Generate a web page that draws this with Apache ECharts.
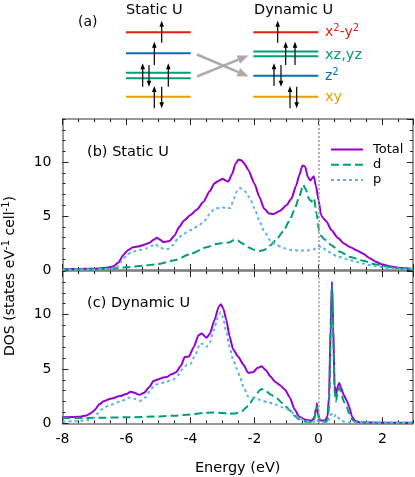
<!DOCTYPE html>
<html><head><meta charset="utf-8">
<script src="https://cdn.jsdelivr.net/npm/echarts@6/dist/echarts.min.js"></script>
<style>html,body{margin:0;padding:0;background:#fff}#c{width:415px;height:477px}</style>
</head><body><div id="c"></div>
<script>
// ---------- Data ----------
const seriesNames = ['Total', 'd', 'p'];
const xTickLabels = [-8, -6, -4, -2, 0, 2];
const yTickLabels = [0, 5, 10];

// Panel (b) Static U
const E_b_total = [-8,-7.5,-7,-6.6,-6.4,-6.25,-6.1,-5.95,-5.8,-5.6,-5.45,-5.3,-5.15,-5.05,-4.95,-4.85,-4.65,-4.5,-4.35,-4.2,-4.0,-3.8,-3.6,-3.4,-3.25,-3.1,-3.0,-2.9,-2.82,-2.7,-2.6,-2.5,-2.4,-2.3,-2.2,-2.0,-1.85,-1.7,-1.55,-1.4,-1.2,-1.0,-0.85,-0.7,-0.6,-0.5,-0.42,-0.33,-0.25,-0.15,-0.08,0.0,0.08,0.15,0.25,0.4,0.6,0.8,1.0,1.2,1.4,1.6,1.8,2.0,2.3,2.6,2.95];
const DOS_b_total = [0.08,0.1,0.12,0.2,0.35,0.7,1.4,1.85,2.1,2.2,2.35,2.5,2.8,3.0,2.8,2.6,2.7,3.2,4.0,4.6,5.1,5.6,6.3,7.3,8.05,8.3,8.45,8.3,8.2,8.9,9.8,10.25,10.15,9.8,9.3,8.0,6.8,5.7,5.25,5.2,5.5,6.0,6.6,7.8,8.8,9.7,9.6,8.6,8.3,8.7,7.8,6.5,5.1,4.8,4.5,3.7,3.0,2.45,2.1,1.8,1.5,1.1,0.75,0.5,0.3,0.18,0.1];

const E_b_d = [-8,-7,-6.5,-6.0,-5.5,-5.0,-4.5,-4.0,-3.5,-3.2,-3.0,-2.8,-2.65,-2.55,-2.4,-2.2,-2.0,-1.85,-1.7,-1.5,-1.3,-1.1,-0.9,-0.75,-0.6,-0.48,-0.4,-0.3,-0.22,-0.14,-0.06,0.02,0.1,0.2,0.4,0.67,1.0,1.4,1.8,2.2,2.6,2.95];
const DOS_b_d = [0.05,0.08,0.12,0.25,0.4,0.55,0.9,1.5,2.1,2.4,2.5,2.55,2.75,2.8,2.5,2.1,1.85,1.75,1.85,2.3,2.9,3.6,4.6,5.6,6.8,7.9,7.5,6.6,6.35,6.65,5.2,3.6,3.1,2.8,2.3,1.7,1.2,0.85,0.5,0.28,0.15,0.08];

const E_b_p = [-8,-7,-6.5,-6.3,-6.15,-6.0,-5.85,-5.6,-5.4,-5.2,-5.1,-5.0,-4.85,-4.7,-4.55,-4.4,-4.25,-4.0,-3.75,-3.55,-3.4,-3.25,-3.0,-2.85,-2.75,-2.65,-2.55,-2.45,-2.3,-2.15,-2.0,-1.85,-1.7,-1.5,-1.3,-1.1,-0.9,-0.6,-0.3,-0.15,0.0,0.1,0.3,0.6,1.0,1.4,1.8,2.2,2.6,2.95];
const DOS_b_p = [0.03,0.05,0.1,0.25,0.8,1.4,1.65,1.85,2.0,2.25,2.4,2.2,1.95,1.95,2.3,2.9,3.3,3.7,4.1,4.6,5.2,5.7,5.8,5.75,5.75,6.6,7.3,7.6,7.3,6.7,5.7,4.6,3.6,2.7,2.3,2.05,1.88,1.8,1.82,1.9,2.2,2.15,1.7,1.25,0.9,0.6,0.33,0.18,0.1,0.06];

// Panel (c) Dynamic U
const E_c_total = [-8,-7.5,-7.25,-7.1,-7.0,-6.85,-6.7,-6.5,-6.2,-6.0,-5.87,-5.75,-5.6,-5.45,-5.3,-5.15,-5.0,-4.85,-4.75,-4.6,-4.45,-4.3,-4.18,-4.05,-3.9,-3.75,-3.65,-3.5,-3.4,-3.25,-3.12,-3.05,-2.97,-2.88,-2.78,-2.67,-2.5,-2.35,-2.2,-2.05,-1.9,-1.78,-1.65,-1.5,-1.35,-1.2,-1.05,-0.9,-0.75,-0.6,-0.4,-0.2,-0.12,-0.09,-0.07,-0.05,-0.02,0.05,0.2,0.28,0.33,0.38,0.42,0.46,0.5,0.55,0.6,0.65,0.7,0.79,0.88,0.96,1.05,1.15,1.3,2.0,2.95];
const DOS_c_total = [0.55,0.6,0.72,0.95,1.2,1.75,2.05,2.25,2.5,2.7,2.9,2.8,2.62,2.8,3.3,3.9,4.05,4.2,4.25,4.5,4.7,5.3,6.1,6.15,7.0,8.1,8.25,7.87,8.2,9.5,10.7,10.95,10.5,9.5,8.0,6.8,6.1,5.4,4.65,4.7,5.1,5.24,4.9,4.3,3.8,3.5,3.1,2.4,1.3,0.6,0.3,0.25,0.6,1.25,1.1,1.85,0.9,0.25,0.25,0.6,2.5,9.0,13.0,9.0,3.5,2.6,3.4,3.7,3.3,2.6,2.1,1.5,0.6,0.2,0.08,0.05,0.05];

const E_c_d = [-8,-7,-6,-5,-4.5,-4,-3.6,-3.3,-3.0,-2.8,-2.6,-2.4,-2.2,-2.0,-1.85,-1.78,-1.65,-1.5,-1.3,-1.15,-1.0,-0.9,-0.75,-0.6,-0.4,-0.15,-0.09,-0.07,-0.05,-0.02,0.05,0.25,0.3,0.34,0.38,0.42,0.46,0.5,0.55,0.6,0.65,0.7,0.79,0.88,0.96,1.05,1.15,1.3,2.95];
const DOS_c_d = [0.48,0.5,0.55,0.62,0.7,0.82,0.95,1.0,0.95,0.88,0.9,1.1,1.6,2.4,3.0,3.15,3.0,2.65,2.3,1.9,1.5,1.2,0.7,0.35,0.15,0.15,1.0,0.9,1.6,0.8,0.12,0.15,0.5,2.5,8.5,12.5,8.5,3.0,2.0,3.0,3.3,2.9,2.0,1.5,0.9,0.35,0.1,0.04,0.03];

const E_c_p = [-8,-7.5,-7.2,-7.04,-6.9,-6.8,-6.5,-6.2,-5.9,-5.75,-5.58,-5.4,-5.25,-5.1,-4.9,-4.75,-4.55,-4.4,-4.25,-4.1,-4.0,-3.85,-3.7,-3.6,-3.5,-3.4,-3.28,-3.15,-3.06,-2.98,-2.88,-2.78,-2.67,-2.55,-2.46,-2.35,-2.2,-2.0,-1.83,-1.6,-1.31,-1.1,-0.9,-0.75,-0.58,-0.4,-0.1,-0.05,0.0,0.2,0.32,0.38,0.45,0.5,0.55,0.62,0.7,0.8,1.0,2.95];
const DOS_c_p = [0.15,0.2,0.3,0.46,0.9,1.25,1.7,2.0,2.37,2.25,2.06,2.4,3.1,3.55,3.7,3.85,4.0,4.4,5.0,5.4,5.45,6.3,7.34,7.3,7.03,7.4,8.5,9.7,10.2,9.7,8.33,7.0,5.86,5.0,4.32,3.4,2.46,2.3,2.16,1.95,1.7,1.45,1.23,0.8,0.45,0.2,0.15,0.35,0.15,0.1,0.3,0.8,0.9,0.65,0.8,0.5,0.3,0.15,0.08,0.05];

// ---------- Styling ----------
const FONT = '"DejaVu Sans", "Noto Sans", sans-serif';
const C_TOTAL = '#9400d3', C_D = '#009e73', C_P = '#56b4e9';
const C_RED = '#e51e10', C_BLUE = '#0072b2', C_GREEN = '#009e73', C_ORANGE = '#e69f00';
const AX = '#777', TK = '#222';

const pairs = (xs, ys) => xs.map((x, i) => [x, ys[i]]);

function xAxes(gi, showLabels) {
  const base = {type:'value', gridIndex:gi, min:-8, max:2.95, splitLine:{show:false}};
  return [
    Object.assign({}, base, {position:'bottom', interval:2,
      axisLine:{show:true, onZero:false, lineStyle:{color:AX, width:1.5}},
      axisTick:{show:true, inside:true, length:6, lineStyle:{color:TK, width:1}},
      axisLabel:{show:showLabels, showMaxLabel:false, color:'#000', fontSize:14, fontFamily:FONT, margin:9,
        formatter: v => xTickLabels.includes(v) ? String(v) : ''},
      name: showLabels ? 'Energy (eV)' : '', nameLocation:'middle', nameGap:37,
      nameTextStyle:{color:'#000', fontSize:14.5, fontFamily:FONT}}),
    Object.assign({}, base, {position:'bottom', interval:0.5, axisLine:{show:false, onZero:false},
      axisTick:{show:true, inside:true, length:3, lineStyle:{color:TK, width:1}}, axisLabel:{show:false}}),
    Object.assign({}, base, {position:'top', interval:2,
      axisLine:{show:true, onZero:false, lineStyle:{color:AX, width:1.5}},
      axisTick:{show:true, inside:true, length:6, lineStyle:{color:TK, width:1}}, axisLabel:{show:false}}),
    Object.assign({}, base, {position:'top', interval:0.5, axisLine:{show:false, onZero:false},
      axisTick:{show:true, inside:true, length:3, lineStyle:{color:TK, width:1}}, axisLabel:{show:false}})
  ];
}
function yAxes(gi) {
  const base = {type:'value', gridIndex:gi, min:0, max:14, splitLine:{show:false}};
  return [
    Object.assign({}, base, {position:'left', interval:5,
      axisLine:{show:true, onZero:false, lineStyle:{color:AX, width:1.5}},
      axisTick:{show:true, inside:true, length:6, lineStyle:{color:TK, width:1}},
      axisLabel:{show:true, showMaxLabel:false, color:'#000', fontSize:14, fontFamily:FONT, margin:11,
        formatter: v => yTickLabels.includes(v) ? String(v) : ''}}),
    Object.assign({}, base, {position:'left', interval:1, axisLine:{show:false, onZero:false},
      axisTick:{show:true, inside:true, length:3, lineStyle:{color:TK, width:1}}, axisLabel:{show:false}}),
    Object.assign({}, base, {position:'right', interval:5,
      axisLine:{show:true, onZero:false, lineStyle:{color:AX, width:1.5}},
      axisTick:{show:true, inside:true, length:6, lineStyle:{color:TK, width:1}}, axisLabel:{show:false}}),
    Object.assign({}, base, {position:'right', interval:1, axisLine:{show:false, onZero:false},
      axisTick:{show:true, inside:true, length:3, lineStyle:{color:TK, width:1}}, axisLabel:{show:false}})
  ];
}

function lineSeries(name, data, xi, yi, color, type, withMark) {
  const s = {name, type:'line', data, xAxisIndex:xi, yAxisIndex:yi, symbol:'none', showSymbol:false,
    smooth:0.2, smoothMonotone:'x', lineStyle:{color, width:2, type}, itemStyle:{color}, z: 3};
  if (withMark) {
    s.markLine = {silent:true, symbol:['none','none'], label:{show:false}, animation:false,
      lineStyle:{color:'#999', width:1.5, type:[2,2]}, data:[{xAxis:0}]};
  }
  return s;
}

// ---------- Schematic (a) ----------
const graphics = [];
function hline(x1, x2, y, color) {
  graphics.push({type:'line', shape:{x1, y1:y, x2, y2:y}, style:{stroke:color, lineWidth:2}});
}
function arrow(x, yTail, yHead) {
  const dir = yHead < yTail ? -1 : 1;
  graphics.push({type:'line', shape:{x1:x, y1:yTail, x2:x, y2:yHead - dir*4}, style:{stroke:'#000', lineWidth:1.2}});
  graphics.push({type:'polygon', shape:{points:[[x, yHead],[x-2.3, yHead - dir*6],[x+2.3, yHead - dir*6]]}, style:{fill:'#000'}});
}
function grayArrow(x1, y1, x2, y2) {
  const ang = Math.atan2(y2 - y1, x2 - x1), L = 11, W = 4.5;
  const bx = x2 - L*Math.cos(ang), by = y2 - L*Math.sin(ang);
  graphics.push({type:'line', shape:{x1, y1, x2:bx, y2:by}, style:{stroke:'#aaa', lineWidth:2.5}});
  graphics.push({type:'polygon', shape:{points:[[x2,y2],[bx - W*Math.sin(ang), by + W*Math.cos(ang)],[bx + W*Math.sin(ang), by - W*Math.cos(ang)]]}, style:{fill:'#aaa'}});
}
function txt(text, x, y, color, size, align, rich) {
  const st = {text, x:0, y:0, fill:color, font: size + 'px ' + FONT, textAlign:align || 'left', textVerticalAlign:'middle'};
  if (rich) st.rich = rich;
  graphics.push({type:'text', x, y, style:st});
}

// static levels
hline(126, 190.7, 32.3, C_RED);
hline(126, 190.7, 53.3, C_BLUE);
hline(126, 190.7, 72.7, C_GREEN);
hline(126, 190.7, 78.3, C_GREEN);
hline(126, 190.7, 96.7, C_ORANGE);
// dynamic levels
hline(253.3, 318.3, 32.3, C_RED);
hline(253.3, 318.3, 51.5, C_GREEN);
hline(253.3, 318.3, 56.2, C_GREEN);
hline(253.3, 318.3, 75.7, C_BLUE);
hline(253.3, 318.3, 96.7, C_ORANGE);
// spins static
arrow(161.7, 42.7, 20.7);
arrow(154.3, 65, 41.7);
arrow(142.7, 86.7, 63.3);
arrow(149, 65, 86.7);
arrow(168.3, 86.7, 63.3);
arrow(154.3, 108.3, 86);
arrow(161.7, 86.7, 108.3);
// spins dynamic
arrow(277.7, 42.7, 20.7);
arrow(285.7, 65, 41.7);
arrow(295, 65, 41.7);
arrow(274, 86, 63.3);
arrow(281, 65, 86.7);
arrow(290, 108.3, 86);
arrow(296.7, 86.7, 108.3);
// gray swap arrows
grayArrow(197, 54.5, 248.5, 76.5);
grayArrow(197, 76.5, 248.5, 55.5);

const supRich = c => ({n:{fontSize:14, fontFamily:FONT, color:c, lineHeight:18}, s:{fontSize:10, fontFamily:FONT, color:c, lineHeight:10, verticalAlign:'top'}});
txt('(a)', 78, 22, '#000', 14);
txt('Static U', 126, 10, '#000', 14.5);
txt('Dynamic U', 254, 10, '#000', 14.5);
txt('{n|x}{s|2}{n|-y}{s|2}', 325, 32, C_RED, 14, 'left', supRich(C_RED));
txt('xz,yz', 325, 55, C_GREEN, 14.5);
txt('{n|z}{s|2}', 325, 76, C_BLUE, 14, 'left', supRich(C_BLUE));
txt('xy', 325, 97, C_ORANGE, 14.5);

// panel labels
txt('(b) Static U', 87, 152, '#000', 14.5);
txt('(c) Dynamic U', 87, 303.5, '#000', 14.5);
// y axis title
graphics.push({type:'text', x:10, y:276, rotation:Math.PI/2,
  style:{text:'{n|DOS (states eV}{s|-1}{n| cell}{s|-1}{n|)}', x:0, y:0, textAlign:'center', textVerticalAlign:'middle',
    rich:supRich('#000')}});

const option = {
  animation:false,
  backgroundColor:'#fff',
  textStyle:{fontFamily:FONT},
  grid:[
    {left:62.5, top:119, width:350.4, height:151},
    {left:62.5, top:271, width:350.4, height:152.3}
  ],
  xAxis: xAxes(0, false).concat(xAxes(1, true)),
  yAxis: yAxes(0).concat(yAxes(1)),
  legend:{orient:'vertical', left:325, top:138, itemWidth:32, itemHeight:14, itemGap:2.3,
    itemStyle:{opacity:0, borderWidth:0},
    data: seriesNames, textStyle:{color:'#000', fontSize:13, fontFamily:FONT, padding:[0,0,0,5]}},
  series:[
    lineSeries('Total', pairs(E_b_total, DOS_b_total), 0, 0, C_TOTAL, 'solid', true),
    lineSeries('d', pairs(E_b_d, DOS_b_d), 0, 0, C_D, [8,4], false),
    lineSeries('p', pairs(E_b_p, DOS_b_p), 0, 0, C_P, [3,3], false),
    lineSeries('Total', pairs(E_c_total, DOS_c_total), 4, 4, C_TOTAL, 'solid', true),
    lineSeries('d', pairs(E_c_d, DOS_c_d), 4, 4, C_D, [8,4], false),
    lineSeries('p', pairs(E_c_p, DOS_c_p), 4, 4, C_P, [3,3], false)
  ],
  graphic: graphics
};
const chart = echarts.init(document.getElementById('c'), null, {renderer:'canvas'});
chart.setOption(option);
</script></body></html>
